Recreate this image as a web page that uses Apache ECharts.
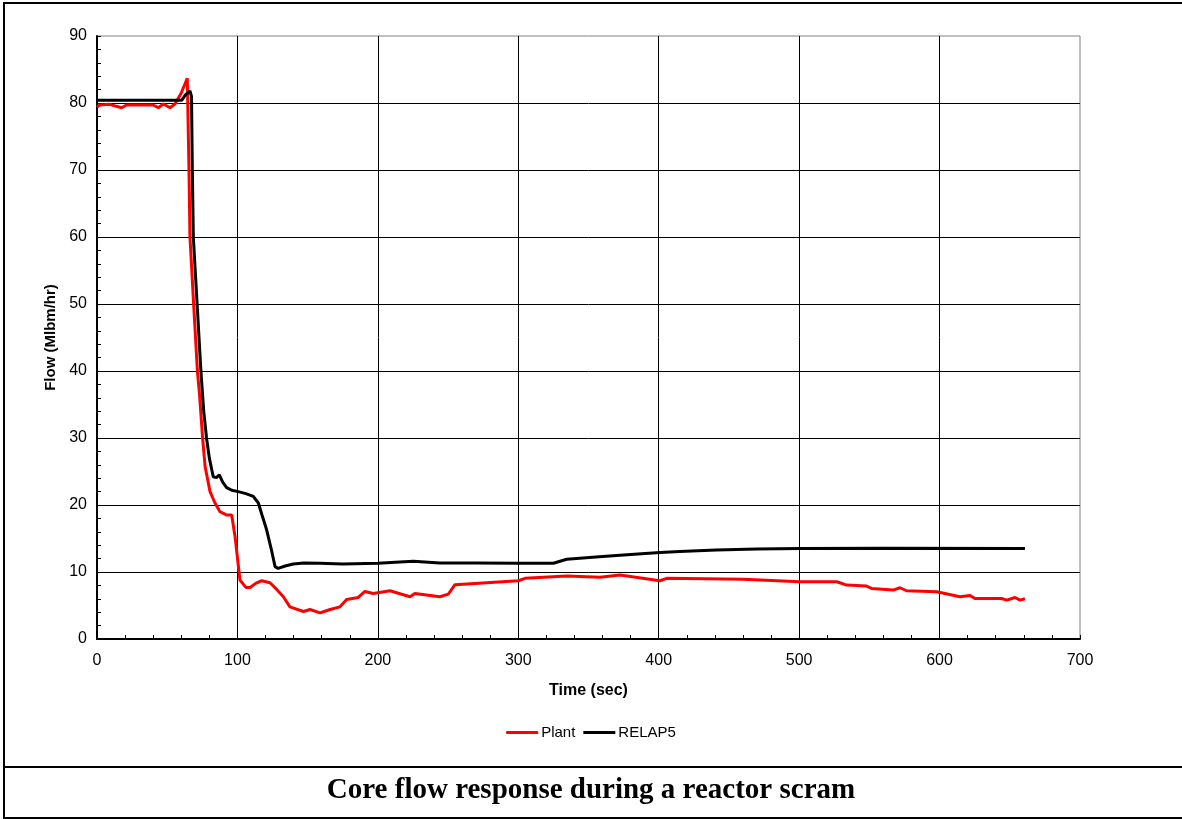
<!DOCTYPE html>
<html>
<head>
    <meta charset="UTF-8">
    <title>Core flow response during a reactor scram</title>
    <script src="https://cdn.jsdelivr.net/npm/echarts@6/dist/echarts.min.js"></script>
    <style>
        html, body { margin: 0; padding: 0; background: #fff; }
        #main { width: 1182px; height: 819px; }
    </style>
</head>
<body>
    <div id="main"></div>
    <script type="text/javascript">
        // 数据：时间(sec), 流量(Mlbm/hr)
        var plantTime = [0, 2, 9, 13, 17.6, 21, 30, 40, 43.7, 47.2, 52, 55.5, 60, 64.3, 65.5, 66.2, 68.8, 71.5, 73, 75.2, 77, 80.5, 84, 87.6, 92.4, 95.9, 98.3, 101.8, 106, 109, 113, 117.3, 123.2, 128, 132.7, 137.4, 147, 151.7, 158.8, 166, 173, 177.8, 186, 190.8, 196.7, 208.6, 222.9, 226.4, 244.2, 250.2, 254.9, 277.5, 300, 304.8, 334.5, 358.2, 372.4, 400.9, 405.7, 460, 500.6, 526.7, 529, 533.8, 548, 551.6, 567, 571.8, 576.5, 598, 614.5, 621.7, 625.2, 644.2, 647.8, 653.7, 657.3, 660.8];
        var plantFlow = [79.4, 79.7, 79.8, 79.55, 79.3, 79.7, 79.7, 79.7, 79.3, 79.85, 79.3, 79.85, 81.5, 83.7, 70, 60, 50, 40, 36.5, 30, 25.7, 22, 20.3, 19, 18.5, 18.5, 15.3, 8.8, 7.7, 7.7, 8.3, 8.7, 8.4, 7.4, 6.3, 4.8, 4.1, 4.4, 3.9, 4.4, 4.8, 5.9, 6.2, 7.1, 6.8, 7.2, 6.3, 6.8, 6.3, 6.7, 8.1, 8.4, 8.7, 9.05, 9.4, 9.2, 9.55, 8.7, 9.05, 8.9, 8.55, 8.55, 8.4, 8.05, 7.9, 7.55, 7.3, 7.65, 7.2, 7.05, 6.3, 6.5, 6.05, 6.05, 5.8, 6.2, 5.8, 6.0];

        var relapTime = [0, 30, 60.3, 63, 66.2, 67.3, 67.9, 68.6, 71.3, 74, 76, 78, 80, 82.8, 85, 87.1, 89.5, 92.3, 96, 100.6, 106, 111.3, 114.9, 117.5, 120.8, 124, 126.8, 129, 134, 139.8, 147, 158.8, 175, 200, 225.3, 244, 270, 300, 325, 334.5, 360, 380, 401, 415, 441, 470, 500.6, 560, 660.8];
        var relapFlow = [80.4, 80.4, 80.4, 81.2, 81.8, 81, 70, 60, 50, 40, 34, 30, 27, 24.2, 24.1, 24.5, 23.4, 22.6, 22.2, 22.0, 21.7, 21.3, 20.3, 18.5, 16.3, 13.5, 10.8, 10.55, 10.9, 11.2, 11.35, 11.3, 11.2, 11.3, 11.6, 11.35, 11.35, 11.3, 11.3, 11.9, 12.3, 12.6, 12.9, 13.05, 13.3, 13.45, 13.5, 13.55, 13.5];

        var seriesNames = ['Plant', 'RELAP5'];
        var seriesColors = ['#ff0000', '#000000'];

        function pairs(xs, ys) {
            var out = [];
            for (var i = 0; i < xs.length; i++) {
                out.push([xs[i], ys[i]]);
            }
            return out;
        }

        var font = "'Liberation Sans', Arial, sans-serif";

        var myChart = echarts.init(document.getElementById('main'));

        var option = {
            animation: false,
            backgroundColor: '#ffffff',
            title: {
                text: 'Core flow response during a reactor scram',
                left: 'center',
                top: 771,
                textStyle: {
                    fontFamily: "'Liberation Serif', 'Times New Roman', serif",
                    fontWeight: 'bold',
                    fontSize: 29,
                    color: '#000'
                }
            },
            legend: {
                data: seriesNames,
                top: 720,
                left: 'center',
                icon: 'rect',
                itemWidth: 32,
                itemHeight: 3,
                itemGap: 8,
                textStyle: { fontFamily: font, fontSize: 15, color: '#000', padding: [0, 0, 0, -2] }
            },
            grid: {
                left: 97,
                right: 102,
                top: 36,
                bottom: 180,
                show: true,
                borderColor: '#808080',
                borderWidth: 1
            },
            xAxis: {
                type: 'value',
                min: 0,
                max: 700,
                interval: 100,
                name: 'Time (sec)',
                nameLocation: 'middle',
                nameGap: 44,
                nameTextStyle: { fontFamily: font, fontWeight: 'bold', fontSize: 16, color: '#000' },
                axisLine: { show: true, lineStyle: { color: '#000', width: 2 } },
                axisTick: { show: true, inside: true, length: 4, lineStyle: { color: '#000' } },
                minorTick: { show: true, splitNumber: 5, length: 4, lineStyle: { color: '#000' } },
                axisLabel: { fontFamily: font, fontSize: 16, color: '#000', margin: 14 },
                splitLine: { show: true, showMinLine: false, showMaxLine: false, lineStyle: { color: '#000', width: 1 } }
            },
            yAxis: {
                type: 'value',
                min: 0,
                max: 90,
                interval: 10,
                name: 'Flow (Mlbm/hr)',
                nameLocation: 'middle',
                nameGap: 39,
                nameTextStyle: { fontFamily: font, fontWeight: 'bold', fontSize: 15, color: '#000' },
                axisLine: { show: true, lineStyle: { color: '#000', width: 2 } },
                axisTick: { show: true, inside: true, length: 4, lineStyle: { color: '#000' } },
                minorTick: { show: true, splitNumber: 5, length: 4, lineStyle: { color: '#000' } },
                axisLabel: { fontFamily: font, fontSize: 16, color: '#000', margin: 10 },
                splitLine: { show: true, showMinLine: false, showMaxLine: false, lineStyle: { color: '#000', width: 1 } }
            },
            graphic: [
                {
                    type: 'rect',
                    shape: { x: 4, y: 3, width: 1190, height: 815 },
                    style: { fill: null, stroke: '#000', lineWidth: 2 },
                    silent: true
                },
                {
                    type: 'line',
                    shape: { x1: 4, y1: 767, x2: 1182, y2: 767 },
                    style: { stroke: '#000', lineWidth: 2 },
                    silent: true
                }
            ],
            series: [
                {
                    name: seriesNames[0],
                    type: 'line',
                    data: pairs(plantTime, plantFlow),
                    showSymbol: false,
                    color: seriesColors[0],
                    lineStyle: { width: 3, color: seriesColors[0] }
                },
                {
                    name: seriesNames[1],
                    type: 'line',
                    data: pairs(relapTime, relapFlow),
                    showSymbol: false,
                    color: seriesColors[1],
                    lineStyle: { width: 3, color: seriesColors[1] }
                }
            ]
        };

        myChart.setOption(option);
    </script>
</body>
</html>
